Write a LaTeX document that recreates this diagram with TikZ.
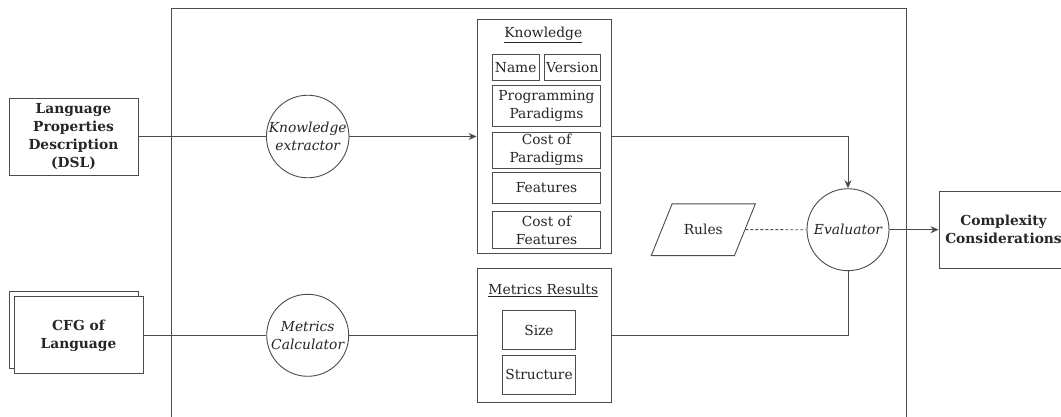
\documentclass[tikz,border=0pt]{standalone}
\usepackage{fontspec}
\setmainfont{DejaVu Serif}
\usetikzlibrary{shapes.geometric,shadows,arrows.meta}
\tikzset{>={Stealth[length=8pt,width=7pt]}}
\tikzset{
  box/.style={draw=black!70, line width=0.9pt, fill=white, inner sep=0pt, align=center, text=black!85},
  proc/.style={circle, draw=black!70, line width=0.9pt, fill=white, minimum size=82pt, inner sep=0pt, align=center, text=black!85, font=\itshape},
  item/.style={box, minimum width=108.4pt},
  link/.style={draw=black!70, line width=0.9pt},
}

\begin{document}
\fontsize{13.8}{18}\selectfont
\begin{tikzpicture}[x=1pt,y=-1pt]
\clip (0,0) rectangle (1061,417);
\draw[link] (171,8) rectangle (906.7,430);
% inputs
\node[box, font=\bfseries, minimum width=129pt, minimum height=77pt] (DSL) at (73.5,136.5) {Language\\Properties\\Description\\(DSL)};
\node[box, font=\bfseries, minimum width=129pt, minimum height=77pt, copy shadow={shadow xshift=-5pt, shadow yshift=5pt}] (CFG) at (78.5,335.3) {CFG of\\Language};
% processes
\node[proc] (KE) at (307.7,136.5) {Knowledge\\extractor};
\node[proc] (MC) at (307.7,335.3) {Metrics\\Calculator};
\node[proc] (EV) at (848,229.7) {Evaluator};
% knowledge
\node[box, minimum width=134pt, minimum height=234.3pt] (KB) at (544,136.5) {};
\node[text=black!85] (KT) at (543.3,35) {\underline{Knowledge}};
\node[box, minimum width=46.7pt, minimum height=26.4pt] (NA) at (515.7,67.5) {Name};
\node[box, minimum width=56.7pt, minimum height=26.4pt] (VE) at (572.3,67.5) {Version};
\node[item, minimum height=41.3pt] (PP) at (546.5,106.3) {Programming\\Paradigms};
\node[item, minimum height=36pt] (CP) at (546.5,150) {Cost of\\Paradigms};
\node[item, minimum height=30.7pt] (FE) at (546.5,187.7) {Features};
\node[item, minimum height=36.6pt] (CF) at (546.5,230) {Cost of\\Features};
% metrics
\node[box, minimum width=134pt, minimum height=134pt] (MR) at (544,335.3) {};
\node[text=black!85] (MT) at (543.3,290) {\underline{Metrics Results}};
\node[box, minimum width=72.6pt, minimum height=38.6pt] (SI) at (539,330) {Size};
\node[box, minimum width=72.6pt, minimum height=38.3pt] (ST) at (539,374.9) {Structure};
% rules and result
\node[trapezium, trapezium left angle=68, trapezium right angle=112, draw=black!70, line width=0.9pt, text height=10pt, text depth=0pt, inner xsep=11.7pt, inner ysep=20.85pt, text=black!85] (RU) at (703.3,229.7) {Rules};
\node[box, font=\bfseries, minimum width=129pt, minimum height=77pt] (CC) at (1003.5,229.7) {Complexity\\Considerations};
% connectors
\draw[link] (DSL) -- (KE);
\draw[link,->] (KE) -- (KB);
\draw[link] (CFG) -- (MC);
\draw[link] (MC) -- (MR);
\draw[link,->] (KB.east) -| (EV);
\draw[link] (MR.east) -| (EV);
\draw[link, dash pattern=on 3pt off 2pt] (RU) -- (EV);
\draw[link,->] (EV) -- (CC);
\end{tikzpicture}
\end{document}
